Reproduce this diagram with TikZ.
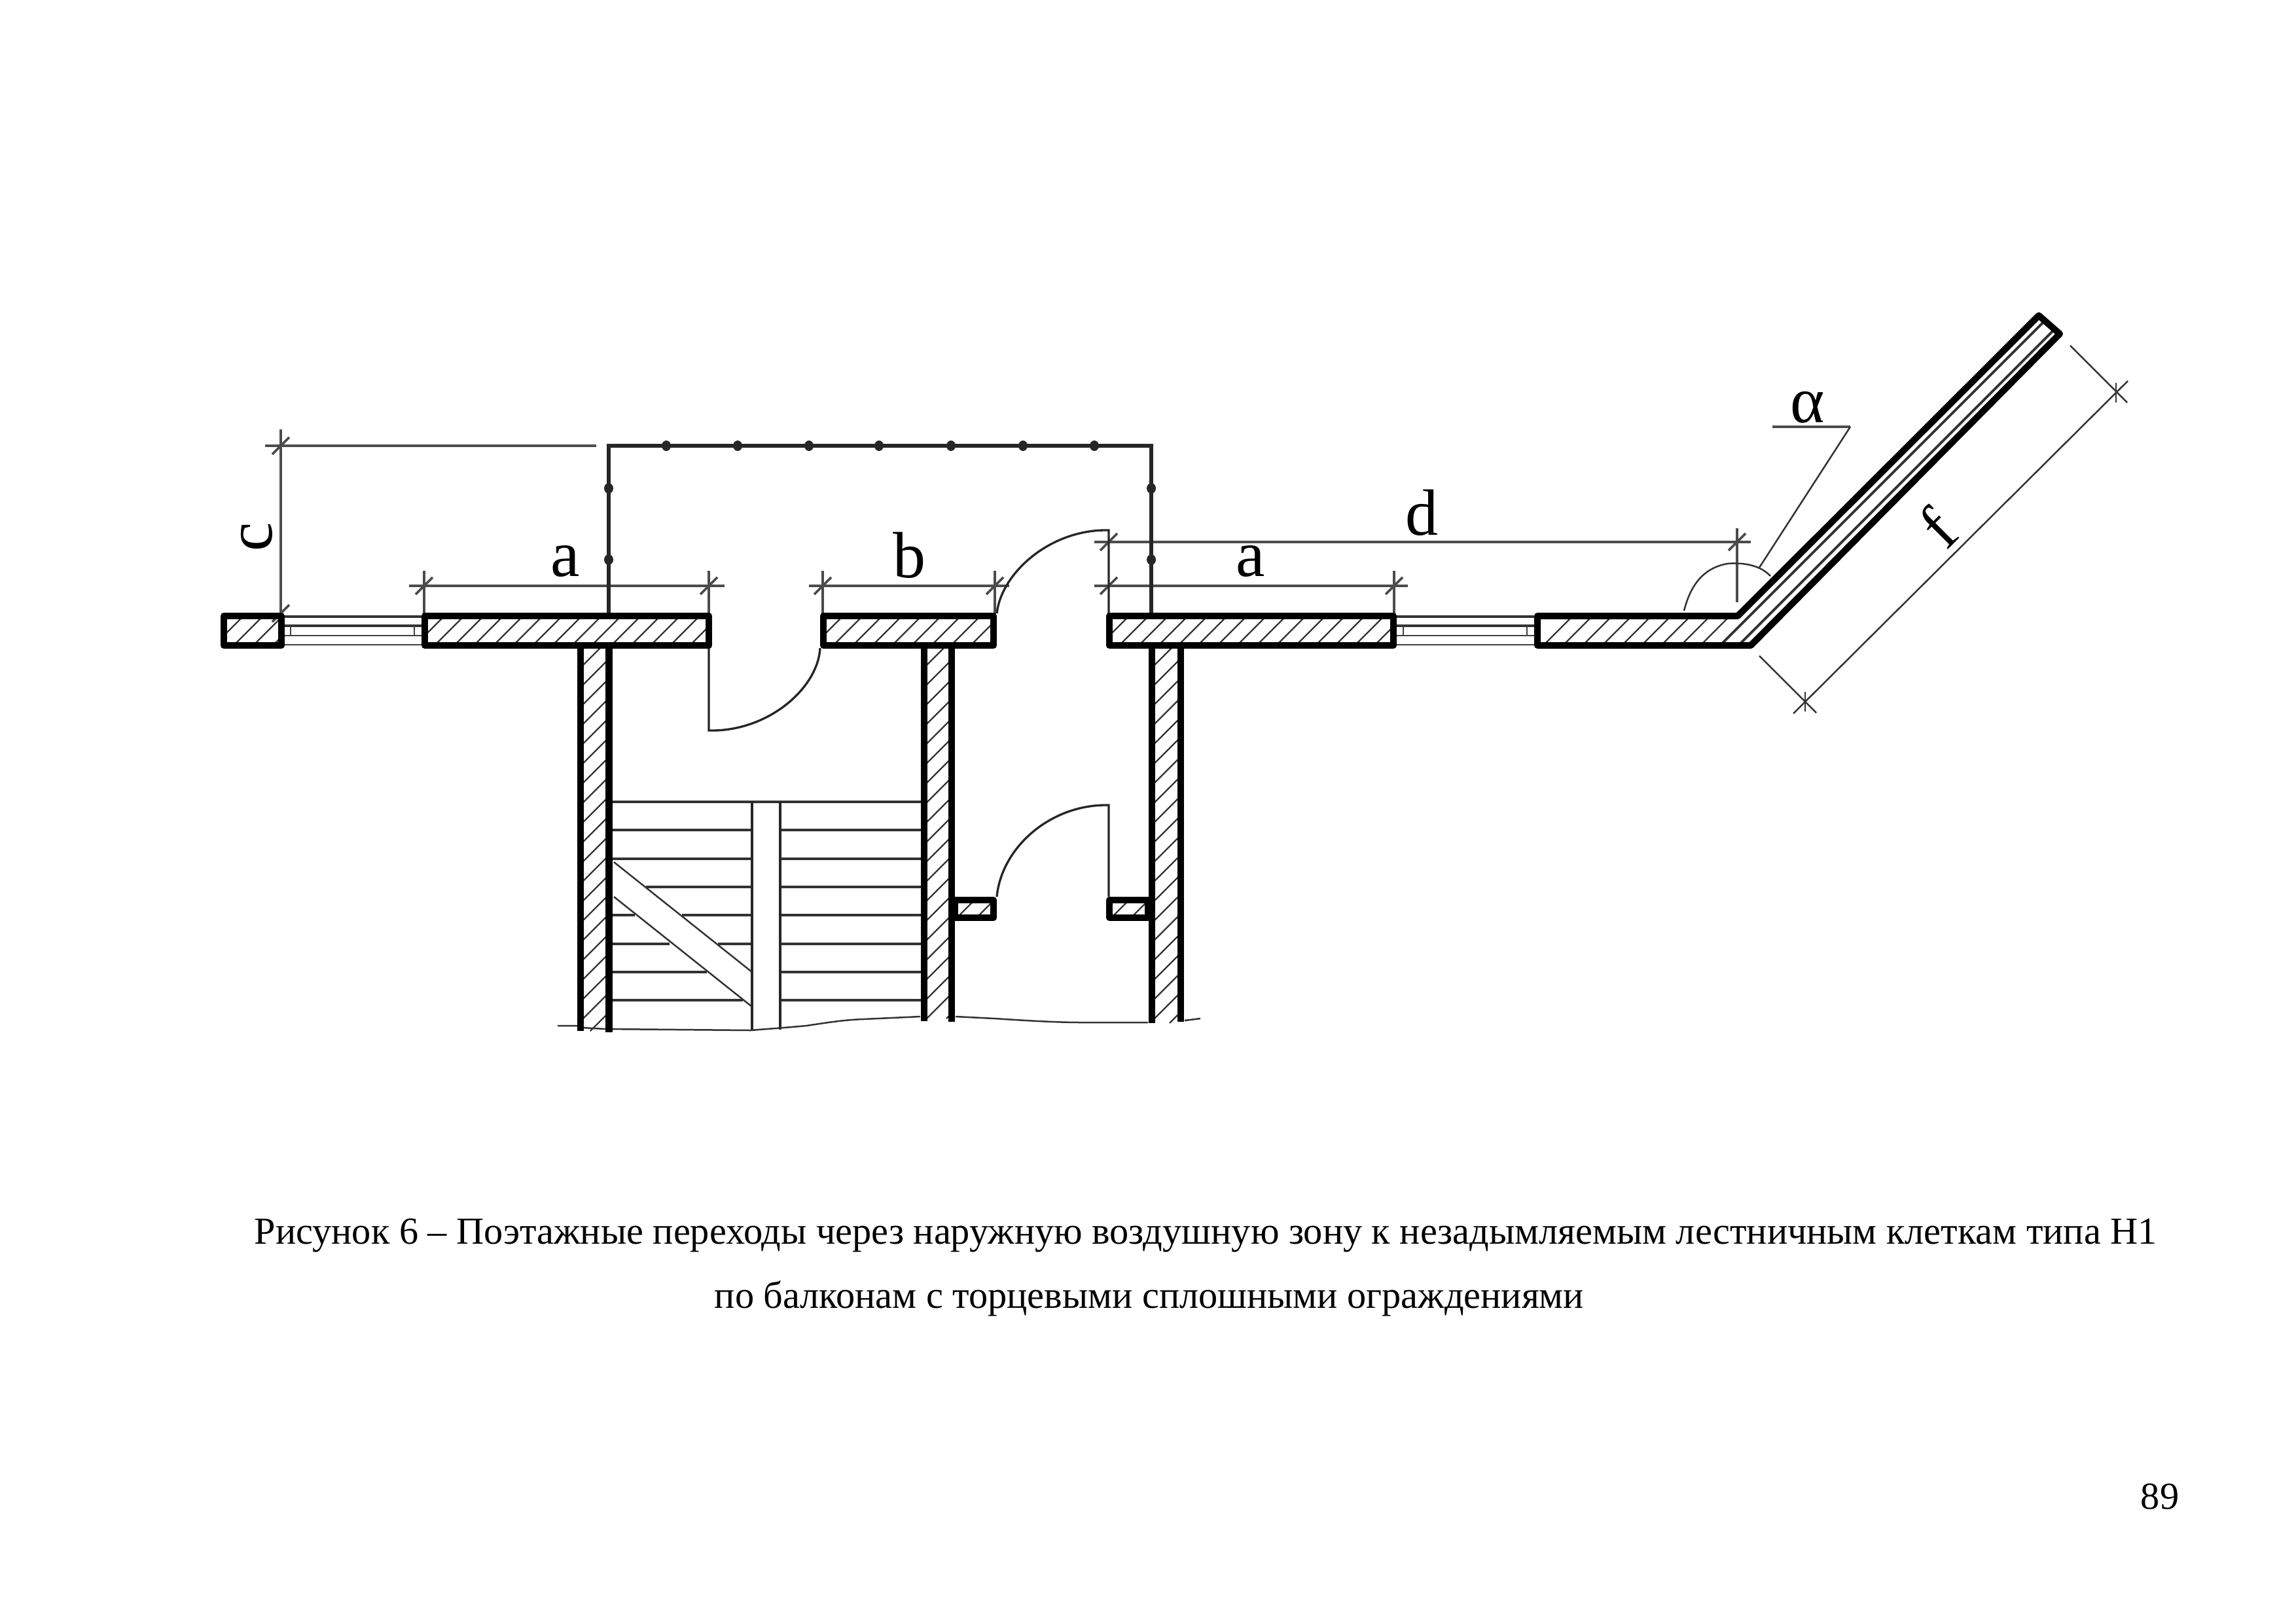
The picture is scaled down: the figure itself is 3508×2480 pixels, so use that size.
\documentclass[tikz,border=0pt]{standalone}
\usepackage{fontspec}
\setmainfont{Liberation Serif}
\newcommand{\hatchbox}[4]{%
  \begin{scope}
    \clip (#1,#2) rectangle (#3,#4);
    \pgfmathsetmacro{\hstart}{#1+#2-30}
    \pgfmathsetmacro{\hsecond}{#1+#2}
    \pgfmathsetmacro{\hend}{#3+#4}
    \foreach \k in {\hstart,\hsecond,...,\hend} {
      \pgfmathsetmacro{\ya}{#2}
      \pgfmathsetmacro{\yb}{#4}
      \pgfmathsetmacro{\xa}{\k-\ya}
      \pgfmathsetmacro{\xb}{\k-\yb}
      \draw[hatchline] (\xa,\ya) -- (\xb,\yb);
    }
  \end{scope}}
\newcommand{\windowband}[2]{%
  \draw[winthick] (#1,942) -- (#2,942);
  \draw[winthick] (#1,956) -- (#2,956);
  \draw[winthin] (#1,971) -- (#2,971);
  \draw[winthin] (#1,985) -- (#2,985);
  \draw[winthin] ($(#1,956)+(10,0)$) -- ($(#1,971)+(10,0)$);
  \draw[winthin] ($(#2,956)+(-11,0)$) -- ($(#2,971)+(-11,0)$);}
\usetikzlibrary{calc}
\tikzset{
  x=0.24pt,y=-0.24pt,
  wallline/.style={line width=2.5pt,black},
  pierbox/.style={line width=2.4pt,black,line join=round},
  hatchline/.style={line width=0.55pt,black!80},
  railline/.style={line width=1.4pt,black!85},
  bead/.style={fill=black!85,draw=none},
  dimline/.style={line width=0.9pt,black!70},
  thinline/.style={line width=0.6pt,black!80},
  doorline/.style={line width=0.8pt,black!85},
  stepline/.style={line width=1.05pt,black!80},
  winthick/.style={line width=0.95pt,black!80},
  winthin/.style={line width=0.65pt,black!75},
  lbl/.style={inner sep=0pt,font=\fontsize{24}{24}\selectfont},
  captxt/.style={inner sep=0pt,font=\fontsize{14}{16}\selectfont}
}
\begin{document}
\begin{tikzpicture}
\useasboundingbox (0,0) rectangle (3508,2480);
% named reference points
\coordinate (cT) at (429,681);
\coordinate (cB) at (429,937);
\coordinate (a1L) at (648,895);
\coordinate (a1R) at (1083,895);
\coordinate (bL) at (1257,895);
\coordinate (bR) at (1520,895);
\coordinate (a2L) at (1694,895);
\coordinate (a2R) at (2130,895);
\coordinate (dL) at (1694,828);
\coordinate (dR) at (2654,828);
\coordinate (fL) at (2758,1072);
\coordinate (fR) at (3233,600);
% hatching
\hatchbox{342}{941}{430}{986}
\hatchbox{649}{941}{1083}{986}
\hatchbox{1258}{941}{1518}{986}
\hatchbox{1695}{941}{2129}{986}
\hatchbox{887}{990}{930}{1575}
\hatchbox{1412}{990}{1454}{1556}
\hatchbox{1760}{990}{1804}{1563}
\hatchbox{1459}{1375}{1518}{1402}
\hatchbox{1695}{1375}{1754}{1402}
% balcony hatching
\begin{scope}
  \clip (2349,941) -- (2655,941) -- (3115,482) -- (3147,510) -- (2675,986) -- (2349,986) -- cycle;
  \foreach \k in {3344,3374,...,3584} {
    \pgfmathsetmacro{\xa}{\k-986}
    \pgfmathsetmacro{\xb}{\k-941}
    \draw[hatchline] (\xa,986) -- (\xb,941);
  }
  \draw[winthick] (2628,986) -- (3148,466);
  \draw[winthick] (2656,986) -- (3176,466);
\end{scope}
% windows
\windowband{434}{644}
\windowband{2134}{2344}
% dimension lines
\draw[dimline] ($(cT)+(0,-25)$) -- (cB);
\draw[dimline] ($(cT)+(-24,0)$) -- (911,681);
\draw[dimline] ($(a1L)+(0,-23)$) -- ($(a1L)+(0,42)$);
\draw[dimline] ($(a1R)+(0,-23)$) -- ($(a1R)+(0,42)$);
\draw[dimline] ($(a1L)+(-23,0)$) -- ($(a1R)+(24,0)$);
\draw[dimline] ($(bL)+(0,-23)$) -- ($(bL)+(0,42)$);
\draw[dimline] ($(bR)+(0,-23)$) -- ($(bR)+(0,42)$);
\draw[dimline] ($(bL)+(-21,0)$) -- ($(bR)+(22,0)$);
\draw[dimline] ($(a2R)+(0,-23)$) -- ($(a2R)+(0,42)$);
\draw[dimline] ($(a2L)+(-22,0)$) -- ($(a2R)+(21,0)$);
\draw[dimline] ($(dL)+(-22,0)$) -- ($(dR)+(21,0)$);
\draw[dimline] ($(dR)+(0,-21)$) -- ($(dR)+(0,92)$);
\foreach \c in {cT,cB,a1L,a1R,bL,bR,a2L,a2R,dL,dR} {
  \draw[dimline] ($(\c)+(-13,13)$) -- ($(\c)+(13,-13)$);
}
% f dimension
\draw[thinline] (3163,528) -- (3250,615);
\draw[thinline] (2688,1002) -- (2775,1089);
\draw[thinline] (2740,1090) -- (3251,582);
\draw[thinline] ($(fL)+(0,-15)$) -- ($(fL)+(0,15)$);
\draw[thinline] ($(fR)+(0,-15)$) -- ($(fR)+(0,15)$);
% angle arc and leader
\draw[thinline] (2573,933) .. controls (2585,885) and (2610,866) .. (2640,861) .. controls (2665,859) and (2690,864) .. (2705,880);
\coordinate (leadA) at (2708,652);
\coordinate (leadB) at (2827,652);
\coordinate (leadC) at (2688,867);
\draw[dimline] (leadA) -- (leadB);
\draw[thinline] (leadB) -- (leadC);
% rail
\draw[railline,line join=miter] (930,937) -- (930,681) -- (1759,681) -- (1759,937);
\foreach \x in {1018,1127,1236,1343,1453,1563,1672} {
  \fill[bead] (\x,681) ellipse (7 and 8);
}
\foreach \y in {746,855} {
  \fill[bead] (930,\y) ellipse (7 and 8);
  \fill[bead] (1759,\y) ellipse (7 and 8);
}
% stairs
\draw[stepline] (930,1225) -- (1408,1225);
\foreach \y in {1268,1312} { \draw[stepline] (930,\y) -- (1149,\y); }
\draw[stepline] (987,1355) -- (1149,1355);
\draw[stepline] (930,1398) -- (970,1398);
\draw[stepline] (1042,1398) -- (1149,1398);
\draw[stepline] (930,1442) -- (1023,1442);
\draw[stepline] (1097,1442) -- (1149,1442);
\draw[stepline] (930,1485) -- (1080,1485);
\draw[stepline] (930,1528) -- (1135,1528);
\foreach \y in {1268,1312,1355,1398,1442,1485,1528} { \draw[stepline] (1192,\y) -- (1408,\y); }
\draw[thinline] (938,1317) -- (1149,1485);
\draw[thinline] (938,1370) -- (1149,1538);
\draw[doorline] (1149,1225) -- (1149,1573);
\draw[doorline] (1192,1225) -- (1192,1573);
% broken bottom edge
\draw[thinline] (852,1567) -- (882,1567) (890,1570) -- (925,1572) -- (1147,1574) .. controls (1170,1572) and (1200,1570) .. (1232,1567) .. controls (1265,1562) and (1290,1558) .. (1319,1557) -- (1406,1553) (1460,1553) -- (1520,1556) .. controls (1580,1560) and (1620,1562) .. (1654,1562) -- (1754,1562) (1810,1559) -- (1834,1556);
% doors
\draw[doorline] (1083,990) -- (1083,1116) .. controls (1175,1118) and (1250,1050) .. (1253,990);
\draw[doorline] (1694,937) -- (1694,810) .. controls (1605,808) and (1530,875) .. (1523,937);
\draw[doorline] (1694,1370) -- (1694,1230) .. controls (1605,1228) and (1530,1295) .. (1523,1370);
% walls
\foreach \x/\b in {887/1575,930.5/1577,1412/1560,1454/1561,1760/1563,1804/1561} {
  \draw[wallline] (\x,986) -- (\x,\b);
}
% piers
\draw[pierbox] (342,941) rectangle (430,986);
\draw[pierbox] (649,941) rectangle (1083,986);
\draw[pierbox] (1258,941) rectangle (1518,986);
\draw[pierbox] (1695,941) rectangle (2129,986);
\draw[pierbox] (1459,1375) rectangle (1518,1402);
\draw[pierbox] (1695,1375) rectangle (1754,1402);
\draw[pierbox] (2349,986) -- (2349,941) -- (2655,941) -- (3115,482) -- (3147,510) -- (2675,986) -- cycle;
% labels
\node[lbl,rotate=90] (labc) at (392,820) {c};
\node[lbl] (laba1) at (864,858) {a};
\node[lbl] (labb) at (1389,848) {b};
\node[lbl] (laba2) at (1911,858) {a};
\node[lbl] (labd) at (2172,783) {d};
\node[lbl] (labal) at (2762,622) {α};
\node[lbl,rotate=45] (labf) at (2960,806) {f};
\node[captxt,anchor=base west] (cap1) at (388,1900) {Рисунок 6 – Поэтажные переходы через наружную воздушную зону к незадымляемым лестничным клеткам типа Н1};
\node[captxt,anchor=base west] (cap2) at (1091,1998) {по балконам с торцевыми сплошными ограждениями};
\node[captxt,anchor=base east] (pageno) at (3330,2305) {89};
\end{tikzpicture}
\end{document}
